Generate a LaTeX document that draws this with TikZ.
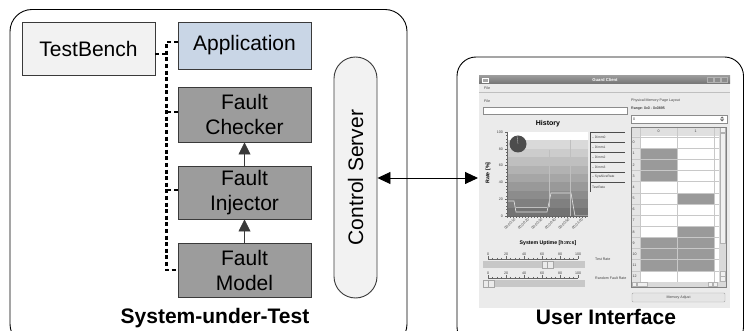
\documentclass[tikz,border=0pt]{standalone}
\usepackage{fontspec}
\setmainfont{Liberation Sans}
\usetikzlibrary{arrows.meta}
\definecolor{tbfill}{HTML}{F2F2F2}
\definecolor{appfill}{HTML}{C9D6E6}
\definecolor{fltfill}{HTML}{9C9C9C}
\definecolor{edgec}{HTML}{3A3A3A}
\definecolor{guibg}{HTML}{EBEBEB}
\definecolor{cellg}{HTML}{9A9A9A}
\definecolor{gridc}{HTML}{C8C8C8}
\begin{document}
\begin{tikzpicture}[x=1pt,y=-1pt,
  box/.style={draw=edgec, line width=0.9pt, minimum width=133pt, align=center,
    font=\fontsize{21}{25}\selectfont, inner sep=0pt},
  bus/.style={line width=2.7pt, dash pattern=on 4pt off 2.6pt, black},
  uparrow/.style={draw=edgec, line width=0.8pt, -{Triangle[width=12pt,length=12pt]}},
  biarrow/.style={draw=black, line width=0.9pt, {Triangle[width=12pt,length=13pt]}-{Triangle[width=12pt,length=13pt]}},
  outer/.style={draw=black, line width=0.9pt, rounded corners=22pt},
  title/.style={font=\fontsize{21}{25}\selectfont\bfseries},
  gt/.style={font=\fontsize{3.6}{4}\selectfont, inner sep=0pt, text=black!75},
  gb/.style={font=\fontsize{5.2}{6}\selectfont\bfseries, inner sep=0pt}]
\useasboundingbox (0,0) rectangle (745,331);
\fill[white] (0,0) rectangle (745,331);
\begin{scope}
\clip (0,0) rectangle (745,331);
\draw[outer] (10,9.5) rectangle (407,346);
\draw[outer, rounded corners=19pt] (457,57) rectangle (743.5,346);
\end{scope}

% ---- left side ----
\node[box, fill=tbfill, minimum height=53pt] (tb) at (88.5,48.5) {TestBench};
\node[box, fill=appfill, minimum height=47pt] (app) at (244.5,45.5) {Application};
\node[box, fill=fltfill, minimum height=55pt] (chk) at (244.5,114.5) {Fault\\Checker};
\node[box, fill=fltfill, minimum height=53pt] (inj) at (244.5,192.5) {Fault\\Injector};
\node[box, fill=fltfill, minimum height=54pt] (mdl) at (244.5,270) {Fault\\Model};
\node[draw=edgec, line width=0.9pt, fill=tbfill, rounded corners=21.5pt,
      minimum width=43pt, minimum height=241pt, inner sep=0pt] (cs) at (355.5,177.5) {};
\node[rotate=90, font=\fontsize{21}{25}\selectfont] (cslabel) at (cs.center) {Control Server};

\node[title] (sut) at (215,318) {System-under-Test};
\node[title] (ui) at (606,317) {User Interface};

\coordinate (bustop) at (166.5,42);
\coordinate (busbot) at (166.5,270);
\draw[bus] (app.west |- bustop) -- (bustop) -- (busbot) -- (mdl.west |- busbot);
\draw[bus] ([yshift=-5.5pt]tb.east) -- ([yshift=-5.5pt]tb.east -| bustop);
\draw[bus] ([yshift=2.5pt]chk.west) -- ([yshift=2.5pt]chk.west -| bustop);
\draw[bus] ([yshift=2.5pt]inj.west) -- ([yshift=2.5pt]inj.west -| bustop);

\draw[uparrow] (mdl) -- (inj);
\draw[uparrow] (inj) -- (chk);

% ---- GUI window ----
\fill[guibg] (479,76) rectangle (730,308);
\shade[top color=black!40, bottom color=black!55] (479,76) rectangle (730,84);
\node[font=\fontsize{4.2}{5}\selectfont\bfseries, text=white, inner sep=0pt] (gtitle) at (605,80) {Guard Client};
\draw[white, fill=black!35, line width=0.3pt] (482,78) rectangle (488,82);
\foreach \bx in {707,714,721}{\draw[black!30, fill=black!45, line width=0.3pt] (\bx,77.5) rectangle (\bx+6,82.5);}
\node[gt, anchor=west] (mfile) at (484,88) {File};
\draw[black!25, line width=0.3pt] (479,92) -- (730,92);
\node[gt, anchor=west] (lfile) at (484,101) {File};
\draw[black!45, fill=white, line width=0.4pt] (483,107) rectangle (627,114);

% chart
\node[font=\fontsize{7}{8}\selectfont\bfseries, inner sep=0pt] (hist) at (548,124) {History};
\foreach \i in {0,...,9}{
  \pgfmathsetmacro\sh{\i==0 ? 0 : 10+\i*5}
  \fill[black!\sh] (507,{132+\i*8.4}) rectangle (588,{132+(\i+1)*8.4});
}
\draw[black!10, line width=0.6pt] (507,201) -- (514,201) -- (516,212) -- (547,212) -- (551,193) -- (571,193) -- (575,216) -- (588,216);
\draw[black!25, line width=0.4pt] (516,207) -- (547,207) (549,150) -- (549,207) (570,140) -- (570,216);
\draw[black!60, line width=0.4pt] (507,132) -- (507,216) -- (588,216);
\foreach \v [count=\k from 0] in {100,80,60,40,20,0}{
  \node[gt, anchor=east] at (503,{132+\k*16.8}) {\v};
  \draw[black!60, line width=0.3pt] (505,{132+\k*16.8}) -- (507,{132+\k*16.8});
}
\foreach \k in {0,...,25}{\draw[black!60, line width=0.25pt] (507,{132+\k*3.36}) -- (506,{132+\k*3.36});}
\foreach \k in {0,...,26}{\draw[black!60, line width=0.25pt] ({507+\k*3},216) -- ({507+\k*3},218);}
\node[gb, rotate=90] (rate) at (488,173) {Rate [\%]};
\fill[black!70] (518,144) circle (8.5pt);
\draw[black!20, line width=0.3pt] (518,144) -- (517,135.5);
% legend
\fill[guibg] (590,132) rectangle (625,192);
\draw[black!70, line width=0.5pt] (590,132) -- (590,192);
\foreach \l [count=\k from 0] in {-- Dimm0,-- Dimm1,-- Dimm2,-- Dimm3,-- SysAliveRate,TestRate}{
  \node[gt, anchor=west, font=\fontsize{3.3}{4}\selectfont] at (592,{137+\k*10}) {\l};
}
\foreach \k in {0,...,5}{\draw[black!70, line width=0.5pt] (590,{132+\k*10}) -- (625,{132+\k*10});}
% x labels
\foreach \t [count=\k from 0] in {00:00:10,00:00:20,00:00:30,00:00:40,00:00:50,00:01:00}{
  \node[gt, rotate=45, anchor=east] at ({515+\k*13.5},219) {\t};
}
\node[gb] (upt) at (548,243) {System Uptime [h:m:s]};

% sliders
\foreach \yy/\hx/\lab in {254/542/Test Rate, 273/483/Random Fault Rate}{
  \foreach \v [count=\k from 0] in {0,20,40,60,80,100}{
    \node[gt] at ({488+\k*18},\yy) {\v};
    \draw[black!60, line width=0.3pt] ({488+\k*18},\yy+2.5) -- ({488+\k*18},\yy+5);
  }
  \foreach \k in {0,...,20}{\draw[black!60, line width=0.25pt] ({488+\k*4.5},\yy+4) -- ({488+\k*4.5},\yy+5);}
  \draw[black!60, line width=0.3pt] (488,\yy+5) -- (578,\yy+5);
  \fill[black!22] (483,\yy+7) rectangle (585,\yy+14);
  \draw[black!35, fill=black!8, line width=0.3pt] (\hx,\yy+7) rectangle (\hx+11,\yy+14);
  \draw[black!35, line width=0.3pt] (\hx+5.5,\yy+7) -- (\hx+5.5,\yy+14);
  \node[gt, anchor=west] at (595,\yy+5.5) {\lab};
}

% right panel
\node[gt, anchor=west] (pm) at (631,101) {Physical Memory Page Layout};
\node[gt, anchor=west, text=black] (rg) at (631,109) {Range: 0x0 - 0x0895};
\draw[black!45, fill=white, line width=0.4pt] (631,115) rectangle (727,123);
\node[gt, anchor=west] at (633,119) {0};
\fill[black!60] (722,116.5) -- (724,118.5) -- (720,118.5) -- cycle (722,121.5) -- (724,119.5) -- (720,119.5) -- cycle;
% table
\fill[white] (631,127) rectangle (726,287);
\fill[black!12] (631,127) rectangle (719,136.5);
\fill[black!10] (631,136.5) rectangle (640,282);
\fill[cellg] (640,{137+1*11.15}) rectangle (677,{137+4*11.15});
\fill[cellg] (677,{137+5*11.15}) rectangle (714,{137+6*11.15});
\fill[cellg] (677,{137+8*11.15}) rectangle (714,{137+9*11.15});
\fill[cellg] (640,{137+9*11.15}) rectangle (714,{137+12*11.15});
\foreach \r in {0,...,12}{
  \node[gt, anchor=west] at (632.5,{137+(\r+0.5)*11.15}) {\r};
  \draw[gridc, line width=0.3pt] (631,{137+\r*11.15}) -- (719,{137+\r*11.15});
}
\foreach \xx in {640,677,714}{\draw[gridc, line width=0.4pt] (\xx,127) -- (\xx,282);}
\node[gt] at (658.5,131.5) {0};
\node[gt] at (695.5,131.5) {1};
\fill[black!15] (719,127) rectangle (726,282);
\draw[black!30, fill=black!6, line width=0.3pt] (720,133) rectangle (725,243);
\draw[black!30, fill=black!6, line width=0.3pt] (720,127.5) rectangle (725,132.5) (720,271) rectangle (725,276) (720,276.5) rectangle (725,281.5);
\fill[black!15] (631,282) rectangle (726,287);
\draw[black!30, fill=black!6, line width=0.3pt] (632,282.5) rectangle (636,286.5) (637,282.5) rectangle (647,286.5) (708,282.5) rectangle (712,286.5) (713,282.5) rectangle (717,286.5);
\draw[black!50, line width=0.4pt] (631,127) rectangle (726,287);
\draw[black!35, fill=black!10, line width=0.4pt, rounded corners=1pt] (632,293) rectangle (725,302);
\node[gt] (madj) at (678.5,297.5) {Memory Adjust};

\draw[biarrow] (cs.east |- 0,178) -- (478,178);
\end{tikzpicture}
\end{document}
